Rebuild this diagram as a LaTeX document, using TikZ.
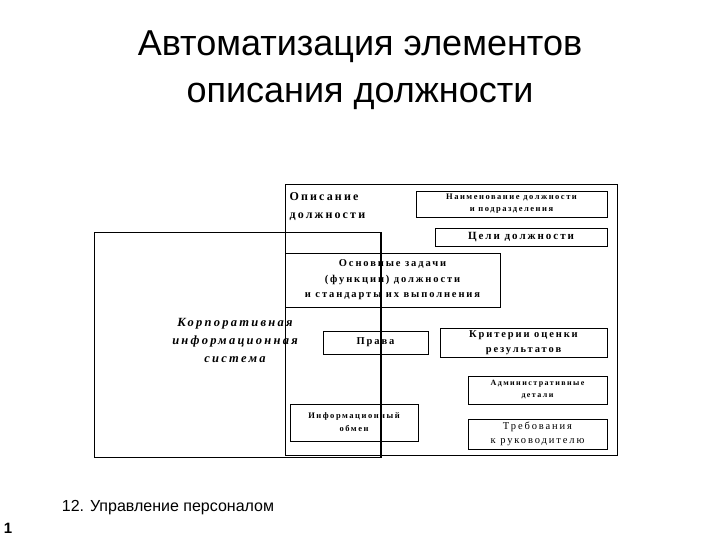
\documentclass[tikz,border=0pt]{standalone}
\usepackage{fontspec}
\setmainfont{Liberation Serif}
\newfontfamily\ttl{Liberation Sans}
\newfontfamily\spf[LetterSpace=18]{Liberation Serif}
\begin{document}
\begin{tikzpicture}[x=1pt,y=-1pt,
  bx/.style={draw,line width=0.9pt,inner sep=0pt},
  tx/.style={font=\spf\bfseries\fontsize{8}{10}\selectfont,align=center}]
\useasboundingbox (0,0) rectangle (720,540);
\node[font=\ttl\fontsize{36}{47}\selectfont,align=center] (title) at (360,70) {Автоматизация элементов\\описания должности};
\draw[line width=0.9pt] (285,184) rectangle (617,455);
\node[bx,minimum width=287pt,minimum height=225pt] (kis) at (237.5,344.5) {};
\draw[line width=1.8pt] (381,232) -- (381,457);
\node[font=\spf\bfseries\itshape\fontsize{12.5}{18}\selectfont,align=center] (kist) at (235,340) {Корпоративная\\информационная\\система};
\node[font=\spf\bfseries\fontsize{12}{18}\selectfont,align=left,anchor=west] (op) at (286,207) {Описание\\должности};
\node[bx,minimum width=191pt,minimum height=26pt] (name) at (511.5,204) {};
\node[tx,font=\spf\bfseries\fontsize{8.5}{12}\selectfont] at (name) {Наименование должности\\и подразделения};
\node[bx,minimum width=172pt,minimum height=18pt] (goal) at (521,237) {};
\node[tx,font=\spf\bfseries\fontsize{11}{12}\selectfont] at (goal) {Цели должности};
\node[bx,minimum width=215pt,minimum height=54pt] (main) at (392.5,280) {};
\node[tx,font=\spf\bfseries\fontsize{10.5}{15.5}\selectfont] at (main) {Основные задачи\\(функции) должности\\и стандарты их выполнения};
\node[bx,minimum width=105pt,minimum height=23pt] (pr) at (375.5,342.5) {};
\node[tx,font=\spf\bfseries\fontsize{10.5}{11}\selectfont] at (pr) {Права};
\node[bx,minimum width=167pt,minimum height=29pt] (kr) at (523.5,342.5) {};
\node[tx,font=\spf\bfseries\fontsize{10.5}{15}\selectfont] at (kr) {Критерии оценки\\результатов};
\node[bx,minimum width=139pt,minimum height=28pt] (adm) at (537.5,390) {};
\node[tx,font=\spf\bfseries\fontsize{8}{12}\selectfont] at (adm) {Административные\\детали};
\node[bx,minimum width=128pt,minimum height=37pt] (inf) at (354,422.5) {};
\node[tx,font=\spf\bfseries\fontsize{8.5}{13}\selectfont] at (inf) {Информационный\\обмен};
\node[bx,minimum width=139pt,minimum height=30pt] (tr) at (537.5,434) {};
\node[tx,font=\spf\fontsize{10.5}{14}\selectfont] at (tr) {Требования\\к руководителю};
\node[font=\ttl\fontsize{16}{18}\selectfont] (foot) at (168,508) {12. Управление персоналом};
\node[font=\ttl\bfseries\fontsize{15}{17}\selectfont] (num) at (8,528) {1};
\end{tikzpicture}
\end{document}
